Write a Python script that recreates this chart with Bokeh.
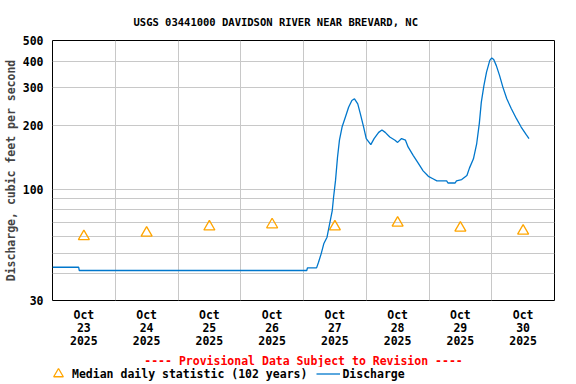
import pandas as pd
from bokeh.plotting import figure
from bokeh.layouts import column
from bokeh.models import FixedTicker, Legend, LegendItem, Title, Range1d, PrintfTickFormatter
from bokeh.embed import file_html
from bokeh.resources import INLINE

# ---------------- data ----------------
times = [
    "2025-10-23 00:00", "2025-10-23 10:00", "2025-10-23 10:15", "2025-10-27 01:15",
    "2025-10-27 01:30", "2025-10-27 05:00", "2025-10-27 05:45", "2025-10-27 06:45",
    "2025-10-27 07:45", "2025-10-27 09:00", "2025-10-27 09:30", "2025-10-27 11:00",
    "2025-10-27 11:30", "2025-10-27 12:15", "2025-10-27 13:00", "2025-10-27 13:45",
    "2025-10-27 14:45", "2025-10-27 16:00", "2025-10-27 17:15", "2025-10-27 18:30",
    "2025-10-27 19:30", "2025-10-27 20:45", "2025-10-27 21:45", "2025-10-27 23:00",
    "2025-10-28 00:00", "2025-10-28 01:45", "2025-10-28 03:00", "2025-10-28 04:45",
    "2025-10-28 06:00", "2025-10-28 07:15", "2025-10-28 09:00", "2025-10-28 11:00",
    "2025-10-28 12:00", "2025-10-28 13:30", "2025-10-28 15:00", "2025-10-28 16:00",
    "2025-10-28 18:00", "2025-10-28 20:00", "2025-10-28 21:45", "2025-10-28 23:45",
    "2025-10-29 01:30", "2025-10-29 03:00", "2025-10-29 06:45", "2025-10-29 07:15",
    "2025-10-29 10:00", "2025-10-29 10:30", "2025-10-29 12:30", "2025-10-29 14:30",
    "2025-10-29 15:30", "2025-10-29 17:00", "2025-10-29 18:15", "2025-10-29 19:15",
    "2025-10-29 20:00", "2025-10-29 21:00", "2025-10-29 22:00", "2025-10-29 23:15",
    "2025-10-30 00:00", "2025-10-30 00:45", "2025-10-30 01:45", "2025-10-30 03:00",
    "2025-10-30 04:15", "2025-10-30 05:45", "2025-10-30 07:30", "2025-10-30 09:30",
    "2025-10-30 11:15", "2025-10-30 13:15", "2025-10-30 14:15",
]
discharge = [
    43, 43, 41.5, 41.5,
    42.7, 42.7, 45.4, 49.7,
    55.4, 59.5, 64, 79.4,
    91.7, 110, 141, 170,
    196, 218, 243, 261,
    266, 252, 226, 196,
    173, 162, 173, 185,
    190, 185, 176, 170,
    166, 173, 170, 158,
    144, 132, 122, 115,
    112, 109.5, 109.5, 107,
    107, 109.5, 111, 116,
    126, 139, 164, 204,
    256, 307, 355, 403,
    414, 407, 381, 342,
    302, 266, 239, 214,
    196, 180, 173,
]

median_days = ["2025-10-23 12:00", "2025-10-24 12:00", "2025-10-25 12:00", "2025-10-26 12:00",
               "2025-10-27 12:00", "2025-10-28 12:00", "2025-10-29 12:00", "2025-10-30 12:00"]
median_values = [60, 62.3, 66.6, 68.2, 66.7, 69.4, 65.8, 63.7]

x_tick_labels = ["Oct\n23\n2025", "Oct\n24\n2025", "Oct\n25\n2025", "Oct\n26\n2025",
                 "Oct\n27\n2025", "Oct\n28\n2025", "Oct\n29\n2025", "Oct\n30\n2025"]
x_grid_days = ["2025-10-24", "2025-10-25", "2025-10-26", "2025-10-27",
               "2025-10-28", "2025-10-29", "2025-10-30"]
y_ticks = [30, 100, 200, 300, 400, 500]
y_grid = [40, 50, 60, 70, 80, 90, 100, 200, 300, 400]

x_start, x_end = "2025-10-23 00:00", "2025-10-31 00:00"

title_text = "USGS 03441000 DAVIDSON RIVER NEAR BREVARD, NC"
y_label = "Discharge, cubic feet per second"
note_text = "---- Provisional Data Subject to Revision ----"
median_label = "Median daily statistic (102 years)"
line_label = "Discharge"

# ---------------- helpers ----------------
def ms(s):
    return float(pd.Timestamp(s).value // 10**6)

FONT = "DejaVu Sans Mono"
BLUE = "#0077CC"
ORANGE = "#FFA500"
GRID = "#C8C8C8"

t_dt = pd.to_datetime(times)
m_dt = pd.to_datetime(median_days)

p = figure(frame_width=502, frame_height=260, x_axis_type="datetime", y_axis_type="log",
           x_range=Range1d(pd.Timestamp(x_start), pd.Timestamp(x_end)),
           y_range=Range1d(30, 500),
           output_backend="svg", toolbar_location=None,
           min_border_left=51, min_border_right=23, min_border_top=40, min_border_bottom=0)

p.background_fill_color = "white"
p.border_fill_color = "white"
p.outline_line_color = "black"
p.outline_line_width = 1

# title (with a small spacer between title and frame)
p.title.text = title_text
p.title.align = "left"
p.title.offset = 81
p.title.text_font = FONT
p.title.text_font_style = "bold"
p.title.text_font_size = "10.5px"
p.title.text_color = "black"
spacer = Title(text=" ", text_font_size="6px", standoff=0)
p.add_layout(spacer, "above")

# axes
tick_ms = [ms(d) for d in median_days]
p.xaxis.ticker = FixedTicker(ticks=tick_ms)
p.xaxis.major_label_overrides = {t: lab for t, lab in zip(tick_ms, x_tick_labels)}
p.yaxis.ticker = FixedTicker(ticks=y_ticks)
p.yaxis.formatter = PrintfTickFormatter(format="%d")
for ax in (p.xaxis, p.yaxis):
    ax.axis_line_color = None
    ax.major_tick_line_color = None
    ax.minor_tick_line_color = None
    ax.major_label_text_font = FONT
    ax.major_label_text_font_style = "bold"
    ax.major_label_text_font_size = "11.5px"
    ax.major_label_text_color = "black"
p.xaxis.major_label_standoff = 1
p.xaxis.major_label_text_line_height = 0.95
p.yaxis.major_label_standoff = 3
p.yaxis.axis_label = y_label
p.yaxis.axis_label_text_font = FONT
p.yaxis.axis_label_text_font_style = "bold"
p.yaxis.axis_label_text_font_size = "11.5px"
p.yaxis.axis_label_standoff = 2

# grids
p.xgrid.ticker = FixedTicker(ticks=[ms(d) for d in x_grid_days])
p.ygrid.ticker = FixedTicker(ticks=y_grid)
p.xgrid.grid_line_color = GRID
p.ygrid.grid_line_color = GRID
p.xgrid.grid_line_width = 1
p.ygrid.grid_line_width = 1

# data
p.scatter(m_dt, median_values, marker="triangle", size=11,
          fill_color=None, line_color=ORANGE, line_width=1.3)
p.line(t_dt, discharge, line_color=BLUE, line_width=1.3)

# provisional note
note = Title(text=note_text, align="center", text_color="red", text_font=FONT,
             text_font_style="bold", text_font_size="11.5px", standoff=0,
             text_line_height=1.0)
p.add_layout(note, "below")

# ---------------- legend strip (separate small figure) ----------------
leg = figure(width=576, height=16, x_range=Range1d(0, 1), y_range=Range1d(0, 1),
             output_backend="svg", toolbar_location=None, min_border=0)
leg.axis.visible = False
leg.grid.visible = False
leg.outline_line_color = None
leg.background_fill_color = "white"
leg.border_fill_color = "white"
# legend proxies (kept outside the visible range)
lm = leg.scatter([-1], [-1], marker="triangle", size=11, fill_color=None,
                 line_color=ORANGE, line_width=1.3)
ll = leg.line([-2, -1], [-1, -1], line_color=BLUE, line_width=1.3)
legend = Legend(items=[LegendItem(label=median_label, renderers=[lm]),
                       LegendItem(label=line_label, renderers=[ll])],
                orientation="horizontal", location=(-6, -4),
                padding=0, margin=0, spacing=9, glyph_width=24, glyph_height=27,
                label_height=12, label_standoff=2,
                border_line_color=None, background_fill_alpha=0,
                label_text_font=FONT, label_text_font_style="bold",
                label_text_font_size="11.5px", label_text_color="black")
leg.add_layout(legend)

layout = column(p, leg, spacing=0)
open("out.html", "w").write(file_html(layout, INLINE))
